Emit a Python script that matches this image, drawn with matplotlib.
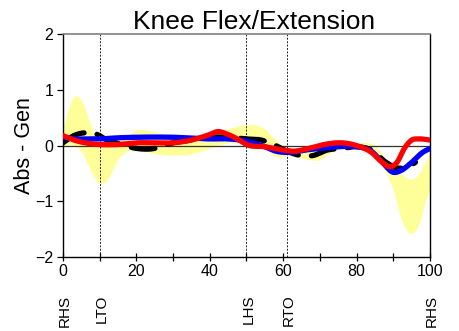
import numpy as np
import matplotlib.pyplot as plt

plt.rcParams["font.family"] = ["Liberation Sans", "DejaVu Sans"]

# normal band (upper / lower edges) across the gait cycle
band_x = [0, 3, 5, 8, 10, 12, 15, 20, 25, 30, 35, 40, 45, 50, 55, 58, 60, 62, 65, 67,
          70, 73, 75, 80, 85, 88, 90, 92, 95, 97, 99, 100]
band_hi = [0.33, 0.88, 0.82, 0.3, 0.08, 0.02, 0.05, 0.28, 0.25, 0.15, 0.15, 0.2, 0.3, 0.38,
           0.3, 0.1, 0.0, -0.05, -0.1, -0.08, 0.0, 0.05, 0.05, 0.05, 0.0, -0.25, -0.4,
           -0.5, -0.6, -0.5, -0.25, -0.15]
band_lo = [0.0, 0.0, -0.1, -0.5, -0.68, -0.62, -0.25, -0.05, -0.15, -0.17, -0.15, -0.05,
           0.05, 0.05, -0.05, -0.2, -0.2, -0.15, -0.22, -0.25, -0.25, -0.12, -0.08, -0.05,
           -0.15, -0.5, -0.8, -1.3, -1.58, -1.4, -0.95, -0.8]

# dashed reference trace
dash_x = [0, 3, 6, 9, 12, 15, 20, 24, 30, 35, 40, 45, 50, 54, 58, 61, 65, 68, 72, 76,
          80, 84, 88, 91, 94, 96]
dash_y = [0.05, 0.18, 0.23, 0.21, 0.1, 0.04, -0.05, -0.06, 0.05, 0.1, 0.15, 0.15, 0.12,
          0.1, 0.0, -0.1, -0.18, -0.18, -0.08, -0.05, -0.02, -0.08, -0.3, -0.4, -0.38, -0.3]

blue_x = [0, 3, 6, 10, 15, 20, 30, 40, 45, 50, 55, 58, 62, 66, 70, 75, 80, 84, 87, 90,
          92, 95, 98, 100]
blue_y = [0.15, 0.12, 0.12, 0.12, 0.14, 0.15, 0.15, 0.12, 0.12, 0.08, -0.02, -0.1, -0.12,
          -0.08, -0.05, -0.02, -0.02, -0.1, -0.3, -0.48, -0.45, -0.3, -0.12, -0.05]

red_x = [0, 3, 6, 10, 15, 20, 25, 30, 35, 40, 42, 45, 48, 50, 55, 60, 63, 67, 72, 76, 80,
         84, 87, 89, 91, 93, 95, 97, 100]
red_y = [0.18, 0.1, 0.05, 0.02, 0.02, 0.05, 0.05, 0.05, 0.1, 0.2, 0.25, 0.2, 0.1, 0.02,
         -0.02, -0.08, -0.1, -0.05, 0.03, 0.05, 0.0, -0.12, -0.3, -0.38, -0.3, -0.05, 0.1,
         0.12, 0.1]

events = [0, 10, 50, 61, 100]
event_labels = ["RHS", "LTO", "LHS", "RTO", "RHS"]
event_lines = [10, 50, 61]


def smooth(xs, ys, n=300):
    """Cubic hermite curve through the given points."""
    xs = np.asarray(xs, float)
    ys = np.asarray(ys, float)
    xo = np.linspace(xs[0], xs[-1], n)
    d = np.gradient(ys, xs)
    idx = np.clip(np.searchsorted(xs, xo) - 1, 0, len(xs) - 2)
    x0, x1 = xs[idx], xs[idx + 1]
    h = x1 - x0
    t = (xo - x0) / h
    h00 = 2 * t**3 - 3 * t**2 + 1
    h10 = t**3 - 2 * t**2 + t
    h01 = -2 * t**3 + 3 * t**2
    h11 = t**3 - t**2
    yo = h00 * ys[idx] + h10 * h * d[idx] + h01 * ys[idx + 1] + h11 * h * d[idx + 1]
    return xo, yo


fig = plt.figure(figsize=(4.59, 3.31), dpi=100)
ax = fig.add_axes([0.137, 0.2236, 0.800, 0.673])

bx, bhi = smooth(band_x, band_hi)
_, blo = smooth(band_x, band_lo)
ax.fill_between(bx, blo, bhi, color="#ffff99", lw=0, zorder=1)

ax.axhline(0, color="#333333", lw=0.9, zorder=2)
for ev in event_lines:
    ax.axvline(ev, color="#222222", lw=0.7, ls=(0, (2, 1.5)), zorder=2)

x, y = smooth(dash_x, dash_y)
ax.plot(x, y, color="black", lw=3.8, ls=(0, (4.5, 2.5)), dash_capstyle="round", zorder=3)
x, y = smooth(blue_x, blue_y)
ax.plot(x, y, color="#0000ff", lw=3.8, solid_capstyle="round", zorder=4)
x, y = smooth(red_x, red_y)
ax.plot(x, y, color="#ff0000", lw=3.8, solid_capstyle="round", zorder=5)

ax.set_xlim(0, 100)
ax.set_ylim(-2, 2)
ax.set_xticks(np.arange(0, 101, 10))
ax.set_xticklabels([str(v) if v % 20 == 0 else "" for v in range(0, 101, 10)])
ax.set_yticks([-2, -1, 0, 1, 2])
ax.tick_params(axis="x", direction="inout", length=6, width=0.9, labelsize=11.5, pad=2)
ax.tick_params(axis="y", direction="out", length=4, width=0.9, labelsize=11.5, pad=3)
ax.spines["top"].set_color("#808080")
ax.spines["top"].set_linewidth(1.2)
for side in ["left", "bottom", "right"]:
    ax.spines[side].set_linewidth(1.0)

ax.set_title("Knee Flex/Extension", fontsize=19, pad=2, x=0.52)
ax.set_ylabel("Abs - Gen", fontsize=15.5, labelpad=0)

for ev, lab in zip(events, event_labels):
    ax.annotate(lab, xy=(ev, 0), xycoords=("data", "axes fraction"),
                xytext=(1.5, -27), textcoords="offset points",
                rotation=90, ha="center", va="top", fontsize=11)

fig.savefig("out.png", dpi=100)
